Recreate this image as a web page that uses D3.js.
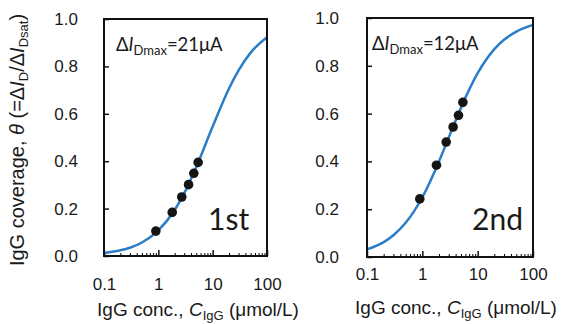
<!DOCTYPE html>
<html>
<head>
<meta charset="utf-8">
<script src="https://cdn.jsdelivr.net/npm/d3@7"></script>
<style>
  body { margin: 0; background: #fff; }
  text { fill: #1a1a1a; }
</style>
</head>
<body>
<div id="chart"></div>
<script>
    var width = 570,
        height = 324;

    // measured points (IgG conc in umol/L, coverage)
    var concs = [0.9, 1.8, 2.7, 3.6, 4.5, 5.4];
    var cover1st = [0.105, 0.184, 0.249, 0.301, 0.349, 0.395];
    var cover2nd = [0.243, 0.384, 0.481, 0.544, 0.593, 0.647];

    // fitted curve
    var curveX = [0.1, 0.2, 0.3, 0.5, 1, 2, 3, 5, 10, 20, 30, 50, 100];
    var curve1st = [0.012, 0.024, 0.035, 0.057, 0.108, 0.194, 0.265, 0.376, 0.546, 0.707, 0.783, 0.858, 0.923];
    var curve2nd = [0.032, 0.062, 0.091, 0.143, 0.25, 0.40, 0.50, 0.625, 0.769, 0.87, 0.909, 0.943, 0.971];

    var xTicks = [0.1, 1, 10, 100];
    var xTickLabels = ['0.1', '1', '10', '100'];
    var yTicks = [0, 0.2, 0.4, 0.6, 0.8, 1.0];

    var svg = d3.select('#chart')
        .append('svg')
        .attr('width', width)
        .attr('height', height);

    function drawPanel(p) {
        var x = d3.scaleLog().domain([0.1, 100]).range([p.left, p.right]);
        var y = d3.scaleLinear().domain([0, 1]).range([p.bottom, p.top]);
        var g = svg.append('g');

        // minor ticks 2..9 of each decade
        var minor = [];
        [0.1, 1, 10].forEach(function (d) {
            for (var k = 2; k <= 9; k++) minor.push(d * k);
        });

        g.append('g')
            .attr('transform', 'translate(0,' + p.bottom + ')')
            .call(d3.axisBottom(x).tickValues(minor).tickSizeInner(-3).tickSizeOuter(0).tickFormat(''))
            .call(function (s) { s.select('.domain').remove(); });

        g.append('g')
            .attr('transform', 'translate(0,' + p.bottom + ')')
            .call(d3.axisBottom(x).tickValues(xTicks).tickSizeInner(-6).tickSizeOuter(0)
                .tickPadding(p.xPad)
                .tickFormat(function (d, i) { return xTickLabels[i]; }))
            .call(function (s) {
                s.select('.domain').remove();
                s.selectAll('line').attr('stroke', '#111').attr('stroke-width', 1.5);
                s.selectAll('text').attr('font-family', 'Liberation Sans, Arial, sans-serif')
                    .attr('font-size', 17).attr('fill', '#1a1a1a');
            });

        g.append('g')
            .attr('transform', 'translate(' + p.left + ',0)')
            .call(d3.axisLeft(y).tickValues(yTicks).tickSizeInner(-5).tickSizeOuter(0)
                .tickPadding(p.yPad)
                .tickFormat(d3.format('.1f')))
            .call(function (s) {
                s.select('.domain').remove();
                s.selectAll('line').attr('stroke', '#111').attr('stroke-width', 1.5);
                s.selectAll('text').attr('font-family', 'Liberation Sans, Arial, sans-serif')
                    .attr('font-size', 17).attr('fill', '#1a1a1a');
            });

        var line = d3.line()
            .x(function (d) { return x(d[0]); })
            .y(function (d) { return y(d[1]); })
            .curve(d3.curveMonotoneX);

        g.append('path')
            .datum(curveX.map(function (c, i) { return [c, p.curve[i]]; }))
            .attr('fill', 'none')
            .attr('stroke', '#2a7dc8')
            .attr('stroke-width', 2.5)
            .attr('d', line);

        g.selectAll('.pt')
            .data(concs.map(function (c, i) { return [c, p.points[i]]; }))
            .enter()
            .append('circle')
            .attr('class', 'pt')
            .attr('cx', function (d) { return x(d[0]); })
            .attr('cy', function (d) { return y(d[1]); })
            .attr('r', 4.8)
            .attr('fill', '#151515');

        g.append('rect')
            .attr('x', p.left)
            .attr('y', p.top)
            .attr('width', p.right - p.left)
            .attr('height', p.bottom - p.top)
            .attr('fill', 'none')
            .attr('stroke', '#111')
            .attr('stroke-width', 2);

        var ann = g.append('text')
            .attr('x', p.annX)
            .attr('y', p.annY)
            .attr('font-family', 'Lato, sans-serif')
            .attr('font-size', 18.5);
        ann.append('tspan').text('\u0394');
        ann.append('tspan').attr('font-style', 'italic').text('I');
        ann.append('tspan').attr('font-size', 13).attr('dy', 4).text('Dmax');
        ann.append('tspan').attr('dy', -4).text('=' + p.imax + '\u03bcA');

        g.append('text')
            .attr('x', p.nameX)
            .attr('y', 230)
            .attr('font-family', 'Lato, sans-serif')
            .attr('font-size', 30)
            .text(p.name);

        var xt = g.append('text')
            .attr('x', p.titleX)
            .attr('y', p.titleY)
            .attr('text-anchor', 'middle')
            .attr('font-family', 'Liberation Sans, Arial, sans-serif')
            .attr('font-size', 19);
        xt.append('tspan').text('IgG conc., ');
        xt.append('tspan').attr('font-style', 'italic').text('C');
        xt.append('tspan').attr('font-size', 13).attr('dy', 4).text('IgG');
        xt.append('tspan').attr('dy', -4).text(' (\u03bcmol/L)');
    }

    drawPanel({
        left: 104, right: 267, top: 19, bottom: 256,
        xPad: 22, yPad: 26,
        points: cover1st, curve: curve1st,
        imax: 21, name: '1st', nameX: 208,
        annX: 116, annY: 51,
        titleX: 198, titleY: 316
    });

    drawPanel({
        left: 367, right: 533, top: 18, bottom: 257,
        xPad: 11, yPad: 28,
        points: cover2nd, curve: curve2nd,
        imax: 12, name: '2nd', nameX: 472,
        annX: 372, annY: 50,
        titleX: 456, titleY: 314
    });

    // y axis title
    var yt = svg.append('text')
        .attr('transform', 'translate(24,140) rotate(-90)')
        .attr('text-anchor', 'middle')
        .attr('font-family', 'Liberation Sans, Arial, sans-serif')
        .attr('font-size', 20);
    yt.append('tspan').text('IgG coverage, ');
    yt.append('tspan').attr('font-style', 'italic').text('\u03b8');
    yt.append('tspan').text(' (=\u0394');
    yt.append('tspan').attr('font-style', 'italic').text('I');
    yt.append('tspan').attr('font-size', 13).attr('dy', 4).text('D');
    yt.append('tspan').attr('dy', -4).text('/\u0394');
    yt.append('tspan').attr('font-style', 'italic').text('I');
    yt.append('tspan').attr('font-size', 13).attr('dy', 4).text('Dsat');
    yt.append('tspan').attr('dy', -4).text(')');
</script>
</body>
</html>
